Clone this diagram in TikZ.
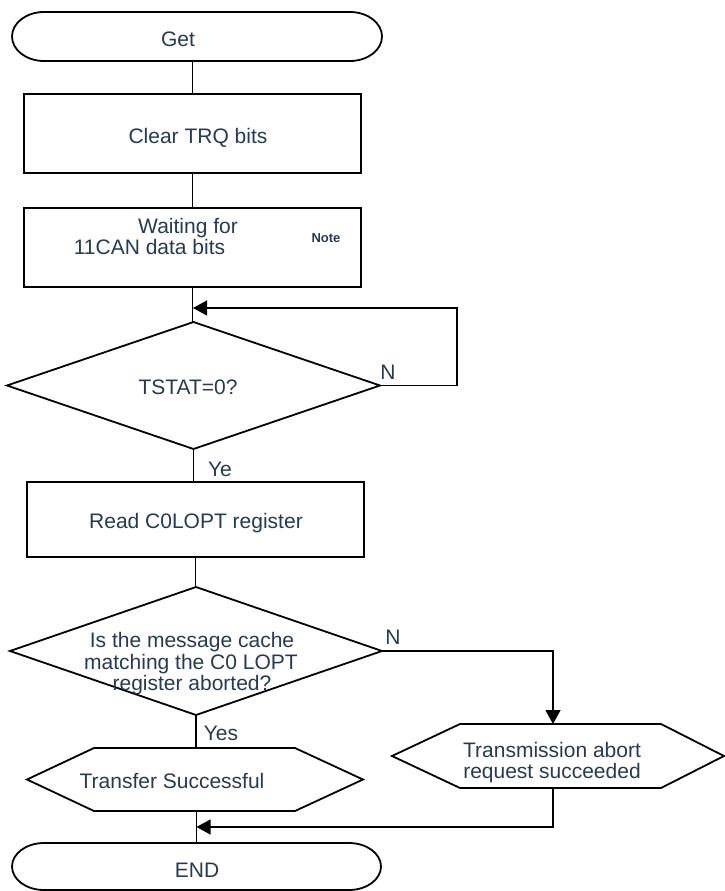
\documentclass[tikz,border=0pt]{standalone}
\usepackage{fontspec}
\setmainfont{Liberation Sans}
\usetikzlibrary{arrows.meta,calc}
\definecolor{txt}{RGB}{38,58,84}
\tikzset{
 shp/.style={draw=none,inner sep=0pt,outer sep=0pt},
 rectbox/.style={draw,line width=1.8pt,inner sep=0pt,outer sep=0pt},
 lbl/.style={text=txt,font=\fontsize{21}{21.5}\selectfont,anchor=base,inner sep=0pt},
 conn/.style={line width=1.2pt},
 arr/.style={conn,-{Triangle[length=14pt,width=15pt]}},
 outline/.style={line width=1.8pt,line join=miter}
}
\begin{document}
\begin{tikzpicture}[x=1pt,y=-1pt]
\useasboundingbox (0,0) rectangle (724,891);
% shapes
\node[shp,minimum width=370pt,minimum height=49pt] (get) at (197,36.5) {};
\draw[outline] ([xshift=32pt]get.north west) -- ([xshift=-32pt]get.north east)
  arc[start angle=90,end angle=-90,x radius=32pt,y radius=24.5pt]
  -- ([xshift=32pt]get.south west)
  arc[start angle=270,end angle=90,x radius=32pt,y radius=24.5pt] -- cycle;
\node[rectbox,minimum width=337pt,minimum height=79pt] (clear) at (192.5,133.5) {};
\node[rectbox,minimum width=337pt,minimum height=79pt] (wait) at (192.5,247.5) {};
\node[shp,minimum width=373pt,minimum height=127pt] (d1) at (193.5,385.5) {};
\draw[outline] (d1.north) -- (d1.east) -- (d1.south) -- (d1.west) -- cycle;
\node[rectbox,minimum width=337pt,minimum height=75pt] (read) at (195.5,519.5) {};
\node[shp,minimum width=372pt,minimum height=128pt] (d2) at (196,651) {};
\draw[outline] (d2.north) -- (d2.east) -- (d2.south) -- (d2.west) -- cycle;
\node[shp,minimum width=336pt,minimum height=63pt] (tr) at (195,779.5) {};
\draw[outline] (tr.west) -- ([xshift=67pt]tr.north west) -- ([xshift=-68pt]tr.north east) -- (tr.east) -- ([xshift=-68pt]tr.south east) -- ([xshift=67pt]tr.south west) -- cycle;
\node[shp,minimum width=332pt,minimum height=64pt] (ab) at (558,756) {};
\draw[outline] (ab.west) -- ([xshift=68pt]ab.north west) -- ([xshift=-63pt]ab.north east) -- (ab.east) -- ([xshift=-63pt]ab.south east) -- ([xshift=68pt]ab.south west) -- cycle;
\node[shp,minimum width=369pt,minimum height=47pt] (end) at (196.5,866.5) {};
\draw[outline] ([xshift=32pt]end.north west) -- ([xshift=-32pt]end.north east)
  arc[start angle=90,end angle=-90,x radius=32pt,y radius=23.5pt]
  -- ([xshift=32pt]end.south west)
  arc[start angle=270,end angle=90,x radius=32pt,y radius=23.5pt] -- cycle;
% connectors
\coordinate (loopin) at (193,308);
\coordinate (join) at (196.5,827);
\draw[conn] (get.south -| clear.north) -- (clear.north);
\draw[conn] (clear.south) -- (wait.north);
\draw[conn] (wait.south) -- (wait.south |- d1.north);
\draw[arr] (d1.east) -- ++(77,0) |- (loopin);
\draw[conn] (d1.south) -- (d1.south |- read.north);
\draw[conn] (read.south) -- (read.south |- d2.north);
\draw[conn] (d2.south) -- (d2.south |- tr.north);
\draw[arr] (d2.east) -| ([xshift=-5pt]ab.north);
\draw[conn] (tr.south -| end.north) -- (end.north);
\draw[arr] ([xshift=-5pt]ab.south) |- (join);
% texts
\node[lbl] (tget) at (178,47) {Get};
\node[lbl] (tclear) at (198,143) {Clear TRQ bits};
\node[lbl] (tw1) at (188,233) {Waiting for};
\node[lbl] (tw2) at (149.5,254) {11CAN data bits};
\node[lbl,font=\bfseries\fontsize{13}{14}\selectfont] (tnote) at (326,242) {Note};
\node[lbl] (td1) at (188,394) {TSTAT=0?};
\node[lbl] (tn1) at (388,379) {N};
\node[lbl] (tye) at (220,476) {Ye};
\node[lbl] (tread) at (196,528) {Read C0LOPT register};
\node[lbl] (td21) at (192,647) {Is the message cache};
\node[lbl] (td22) at (191,669) {matching the C0 LOPT};
\node[lbl] (td23) at (192,690) {register aborted?};
\node[lbl] (tn2) at (393,644) {N};
\node[lbl] (tyes) at (221,740) {Yes};
\node[lbl] (ttr) at (172,788) {Transfer Successful};
\node[lbl] (tab1) at (552,757) {Transmission abort};
\node[lbl] (tab2) at (552,778) {request succeeded};
\node[lbl] (tend) at (197,877) {END};
\end{tikzpicture}
\end{document}
